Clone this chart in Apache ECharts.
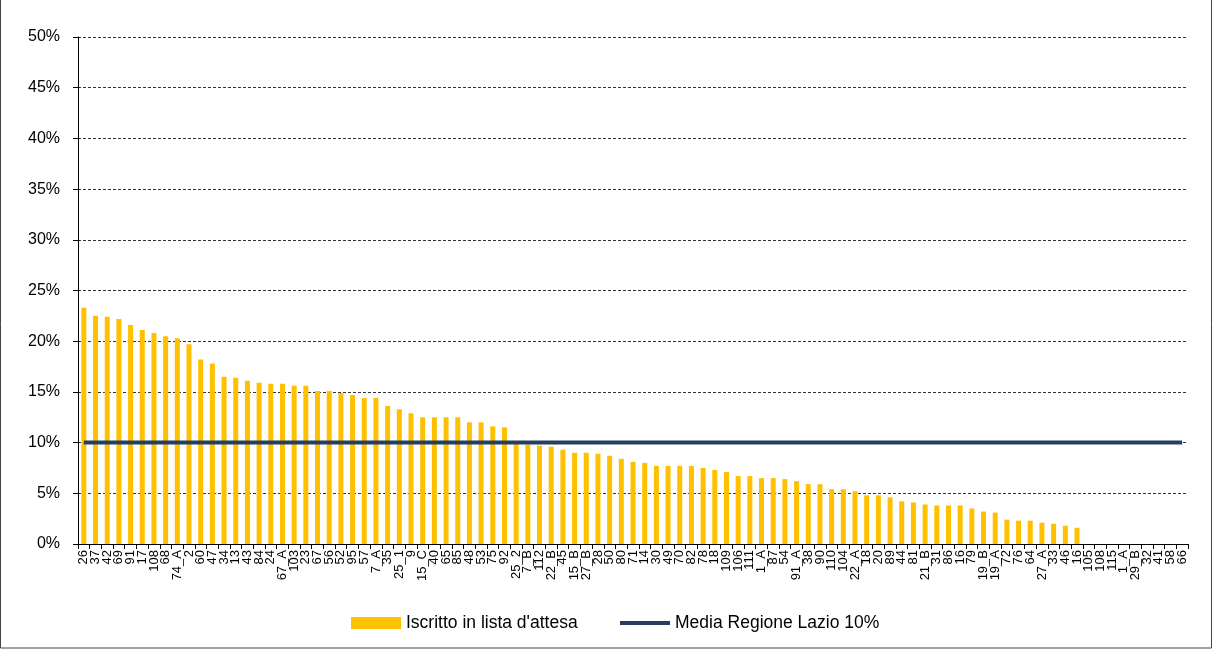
<!DOCTYPE html>
<html>
<head>
<meta charset="utf-8">
<script src="https://cdn.jsdelivr.net/npm/echarts@6/dist/echarts.min.js"></script>
<style>
  html, body { margin: 0; padding: 0; background: #fff; }
  #main { width: 1215px; height: 655px; }
</style>
</head>
<body>
<div id="main"></div>
<script>
// codici distretto / struttura
const categories = [
  '26', '37', '42', '69', '91', '17', '108', '68', '74_A', '2',
  '60', '47', '34', '13', '43', '84', '24', '67_A', '103', '23',
  '67', '56', '52', '95', '57', '7_A', '35', '25_1', '9', '15_C',
  '40', '65', '85', '48', '53', '75', '92', '25_2', '7_B', '112',
  '22_B', '45', '15_B', '27_B', '28', '50', '80', '71', '14', '30',
  '49', '70', '82', '78', '18', '109', '106', '111', '1_A', '87',
  '54', '91_A', '38', '90', '110', '104', '22_A', '18', '20', '89',
  '44', '81', '21_B', '31', '86', '16', '79', '19_B', '19_A', '72',
  '76', '64', '27_A', '33', '46', '16', '105', '108', '115', '1_A',
  '29_B', '32', '41', '58', '66'
];

// % iscritti in lista d'attesa
const waitingList = [
  23.3, 22.5, 22.4, 22.2, 21.6, 21.1, 20.8, 20.5, 20.3, 19.7,
  18.2, 17.8, 16.5, 16.4, 16.1, 15.9, 15.8, 15.8, 15.6, 15.6,
  15.1, 15.1, 14.9, 14.7, 14.4, 14.4, 13.6, 13.3, 12.9, 12.5,
  12.5, 12.5, 12.5, 12.0, 12.0, 11.6, 11.5, 9.9, 9.8, 9.7,
  9.6, 9.3, 9.0, 9.0, 8.9, 8.7, 8.4, 8.1, 8.0, 7.7,
  7.7, 7.7, 7.7, 7.5, 7.3, 7.1, 6.7, 6.7, 6.5, 6.5,
  6.4, 6.2, 5.9, 5.9, 5.4, 5.4, 5.2, 4.8, 4.8, 4.6,
  4.2, 4.1, 3.9, 3.8, 3.8, 3.8, 3.5, 3.2, 3.1, 2.4,
  2.3, 2.3, 2.1, 2.0, 1.8, 1.6, 0, 0, 0, 0,
  0, 0, 0, 0, 0
];

const regionAvg = 10;
const avgLine = categories.map(() => regionAvg);

const yTicks = [0, 5, 10, 15, 20, 25, 30, 35, 40, 45, 50];

const barName = "Iscritto in lista d'attesa";
const lineName = 'Media Regione Lazio 10%';

const chart = echarts.init(document.getElementById('main'), null, { renderer: 'canvas' });

chart.setOption({
  animation: false,
  textStyle: { fontFamily: 'Liberation Sans, Arial, sans-serif', color: '#000' },
  graphic: [{
    type: 'rect',
    shape: { x: 0.5, y: -2, width: 1211, height: 650 },
    style: { fill: 'none', stroke: '#444', lineWidth: 1 },
    silent: true
  }],
  grid: { left: 78, right: 27, top: 37, bottom: 111, containLabel: false },
  // two legends so the bar and line keys can have different heights
  legend: [
    {
      left: 346,
      top: 609,
      itemWidth: 50,
      itemHeight: 12,
      textStyle: { fontSize: 17.5, color: '#000' },
      data: [{ name: barName, icon: 'rect' }]
    },
    {
      left: 615,
      top: 609,
      itemWidth: 50,
      itemHeight: 4,
      textStyle: { fontSize: 17.5, color: '#000' },
      data: [{ name: lineName, icon: 'rect' }]
    }
  ],
  xAxis: {
    type: 'category',
    data: categories,
    boundaryGap: true,
    axisLine: { lineStyle: { color: '#000', width: 1 } },
    axisTick: { show: true, interval: 0, length: 5, lineStyle: { color: '#000' } },
    axisLabel: {
      interval: 0,
      rotate: 90,
      fontSize: 13,
      margin: 6,
      color: '#000'
    }
  },
  yAxis: {
    type: 'value',
    min: yTicks[0],
    max: yTicks[yTicks.length - 1],
    interval: 5,
    axisLine: { show: true, lineStyle: { color: '#000', width: 1 } },
    axisTick: { show: true, inside: false, length: 5, lineStyle: { color: '#000' } },
    axisLabel: {
      formatter: v => v + '%',
      fontSize: 16,
      margin: 18,
      color: '#000'
    },
    splitLine: {
      show: true,
      lineStyle: { color: '#333', type: [3, 2], width: 1 }
    }
  },
  series: [
    {
      name: barName,
      type: 'bar',
      data: waitingList,
      barWidth: 5,
      itemStyle: { color: '#FFC000' }
    },
    {
      name: lineName,
      type: 'line',
      data: avgLine,
      symbol: 'none',
      lineStyle: { color: '#243F60', width: 4 },
      itemStyle: { color: '#243F60' },
      z: 5
    }
  ]
});
</script>
</body>
</html>
